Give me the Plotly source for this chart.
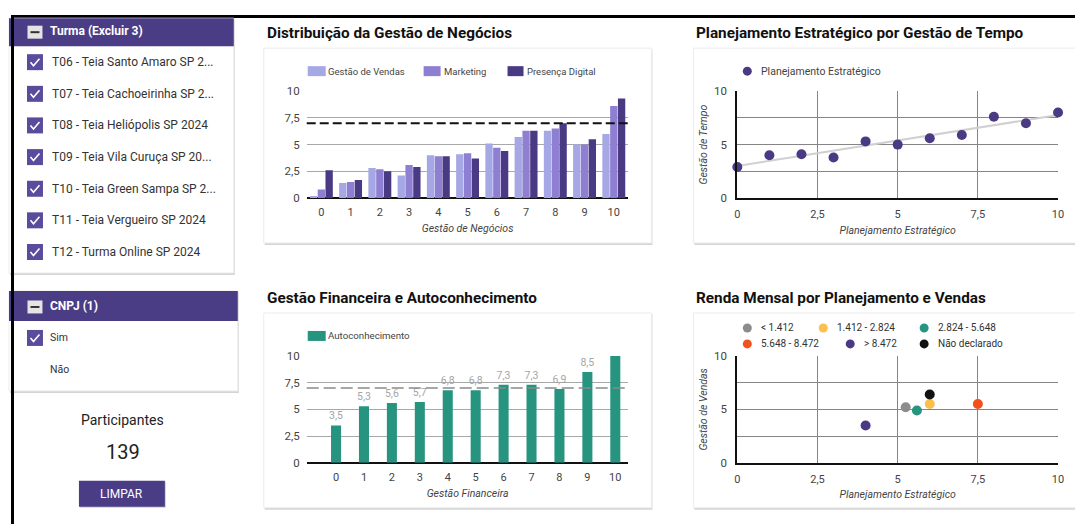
import plotly.graph_objects as go
import numpy as np

W, H = 1083, 524
# where the figure lands in the photographed window (measured)
OX, OY, WR, HR = 10.0, 13.8, 1075.0, 510.4

# ---------------- data ----------------
notas = list(range(11))
gestao_vendas = [0.2, 1.4, 2.8, 2.1, 4.0, 4.1, 5.1, 5.7, 6.3, 5.0, 6.0]
marketing = [0.8, 1.5, 2.7, 3.1, 3.9, 4.2, 4.7, 6.3, 6.5, 5.0, 8.6]
presenca_digital = [2.6, 1.7, 2.5, 2.9, 3.9, 3.7, 4.4, 6.3, 7.0, 5.5, 9.3]
meta_negocios = 7

planejamento = list(range(11))
gestao_tempo = [2.9, 4.0, 4.1, 3.8, 5.3, 5.0, 5.6, 5.9, 7.6, 7.0, 8.0]

gestao_financeira = list(range(11))
autoconhecimento = [3.5, 5.3, 5.6, 5.7, 6.8, 6.8, 7.3, 7.3, 6.9, 8.5, 10.0]
meta_financeira = 7

renda_faixas = ["< 1.412", "1.412 - 2.824", "2.824 - 5.648",
                "5.648 - 8.472", "> 8.472", "Não declarado"]
renda_planejamento = [5.25, 6.0, 5.6, 7.5, 4.0, 6.0]
renda_vendas = [5.2, 5.5, 4.9, 5.5, 3.5, 6.4]

turmas = ["T06 - Teia Santo Amaro SP 2...", "T07 - Teia Cachoeirinha SP 2...",
          "T08 - Teia Heliópolis SP 2024", "T09 - Teia Vila Curuça SP 20...",
          "T10 - Teia Green Sampa SP 2...", "T11 - Teia Vergueiro SP 2024",
          "T12 - Turma Online SP 2024"]
cnpj_opcoes = ["Sim", "Não"]
cnpj_marcado = [True, False]
participantes = 139

# ---------------- styles ----------------
FONT = "Roboto"
PURPLE = "#4b3c86"
CHK = "#5a4b9c"
C_GV = "#a5a8e4"
C_MK = "#8e7fd2"
C_PD = "#4a3a84"
TEAL = "#279480"
renda_cores = ["#8c8c8c", "#fbc04a", "#279480", "#f1511d", "#4a3a84", "#111111"]
TICK = "#444444"


def X(px):
    return (px - OX) / WR


def Y(py):
    return 1 - (py - OY) / HR


shapes = []
annotations = []


def rect(x0, y0, x1, y1, fill, line=None, lw=0, layer="below"):
    shapes.append(dict(type="rect", xref="paper", yref="paper",
                       x0=X(x0), x1=X(x1), y0=Y(y1), y1=Y(y0),
                       fillcolor=fill, line=dict(color=line or fill, width=lw),
                       layer=layer))


def circle(cx, cy, r, fill):
    shapes.append(dict(type="circle", xref="paper", yref="paper",
                       x0=X(cx - r), x1=X(cx + r), y0=Y(cy + r), y1=Y(cy - r),
                       fillcolor=fill, line=dict(color=fill, width=0), layer="above"))


def text(x, y, s, size=12, color="#333", anchor="left", bold=False, italic=False):
    if anchor == "left":
        x -= 3  # compensate annotation inner padding
    annotations.append(dict(xref="paper", yref="paper", x=X(x), y=Y(y), text=s,
                            showarrow=False, xanchor=anchor, yanchor="middle",
                            font=dict(family=FONT, size=size, color=color,
                                      weight="bold" if bold else "normal",
                                      style="italic" if italic else "normal")))


def card(x0, y0, x1, y1):
    rect(x0 + 1, y0 + 1, x1 + 1, y1 + 2, "#d4d4d4")
    rect(x0, y0, x1, y1, "white", "#ececec", 1)


def checkbox(cx, cy):
    rect(cx - 8, cy - 8, cx + 8, cy + 8, CHK, layer="above")
    path = "M {},{} L {},{} L {},{}".format(X(cx - 4.5), Y(cy), X(cx - 1.5), Y(cy + 3.5),
                                            X(cx + 4.5), Y(cy - 3.5))
    shapes.append(dict(type="path", xref="paper", yref="paper", path=path,
                       line=dict(color="white", width=1.6), layer="above"))


def minusbox(cx, cy):
    rect(cx - 7.5, cy - 6.5, cx + 7.5, cy + 6.5, "#e4e4e4", layer="above")
    shapes.append(dict(type="line", xref="paper", yref="paper",
                       x0=X(cx - 4.5), x1=X(cx + 4.5), y0=Y(cy), y1=Y(cy),
                       line=dict(color="#333", width=2), layer="above"))


# ---------------- frame ----------------
rect(OX, OY, 1090, OY + 3, "black")
rect(OX, OY, OX + 3, 530, "black", layer="above")

# ---------------- left panel ----------------
card(8, 17, 233, 272)
rect(8, 17, 233, 45, PURPLE)
minusbox(34, 31)
text(50, 30, "Turma (Excluir 3)", size=12, color="white", bold=True)
item_y = [61, 92.7, 124.3, 156, 187.7, 219.3, 251]
for t, yy in zip(turmas, item_y):
    checkbox(34, yy)
    text(52, yy, t, size=12, color="#333")

card(8, 290, 237, 390)
rect(8, 290, 237, 320, PURPLE)
minusbox(34, 306)
text(50, 305, "CNPJ (1)", size=12, color="white", bold=True)
for opt, chk, yy in zip(cnpj_opcoes, cnpj_marcado, [337, 369]):
    if chk:
        checkbox(34, yy)
    text(50, yy, opt, size=10.5, color="#333")

text(122, 419, "Participantes", size=14, color="#222", anchor="center")
text(122, 451, str(participantes), size=20, color="#222", anchor="center")
rect(79, 481, 165, 507, "#d0d0d0")
rect(78, 480, 164, 506, PURPLE)
text(121, 493, "LIMPAR", size=12, color="white", anchor="center")

# ---------------- chart cards & titles ----------------
card(263, 47, 651, 242)
card(693, 47, 1080, 242)
card(263, 312, 651, 507)
card(693, 312, 1080, 507)
text(267, 32, "Distribuição da Gestão de Negócios", size=15.3, color="#111", bold=True)
text(697, 32, "Planejamento Estratégico por Gestão de Tempo", size=15.3, color="#111", bold=True)
text(267, 297, "Gestão Financeira e Autoconhecimento", size=15.3, color="#111", bold=True)
text(697, 297, "Renda Mensal por Planejamento e Vendas", size=15.3, color="#111", bold=True)

# legends (manual)
for (x0, x1, tx, c, s) in [(307, 325, 328, C_GV, "Gestão de Vendas"),
                           (423, 440, 444, C_MK, "Marketing"),
                           (507, 523, 527, C_PD, "Presença Digital")]:
    rect(x0, 65, x1, 75, c, layer="above")
    text(tx, 70, s, size=9.5, color="#444")
rect(307, 330, 325, 340, TEAL, layer="above")
text(328, 335, "Autoconhecimento", size=9.7, color="#444")
circle(747, 70, 4.5, C_PD)
text(762, 70, "Planejamento Estratégico", size=10.5, color="#444")
leg_pos = [(747, 327), (823, 327), (924, 327), (747, 343), (850, 343), (924, 343)]
for (lx, ly), lab, col in zip(leg_pos, renda_faixas, renda_cores):
    circle(lx, ly, 4.5, col)
    text(lx + 15, ly, lab, size=10, color="#333")

# ---------------- traces ----------------
fig = go.Figure()

for name, vals, col in [("Gestão de Vendas", gestao_vendas, C_GV),
                        ("Marketing", marketing, C_MK),
                        ("Presença Digital", presenca_digital, C_PD)]:
    fig.add_trace(go.Bar(x=notas, y=vals, name=name, marker=dict(color=col, line=dict(width=0)),
                         xaxis="x", yaxis="y", showlegend=False))

coef = np.polyfit(planejamento, gestao_tempo, 1)
tx_ = np.array([min(planejamento), max(planejamento)])
fig.add_trace(go.Scatter(x=tx_, y=np.polyval(coef, tx_), mode="lines",
                         line=dict(color="#d0d0d0", width=2), xaxis="x2", yaxis="y2",
                         showlegend=False, hoverinfo="skip"))
fig.add_trace(go.Scatter(x=planejamento, y=gestao_tempo, mode="markers", name="Planejamento Estratégico",
                         marker=dict(color=C_PD, size=10), xaxis="x2", yaxis="y2",
                         showlegend=False, cliponaxis=False))

labels_fin = [("%.1f" % v).replace(".", ",") if v < 10 else "" for v in autoconhecimento]
fig.add_trace(go.Bar(x=gestao_financeira, y=autoconhecimento, name="Autoconhecimento",
                     marker=dict(color=TEAL, line=dict(width=0)), width=0.36,
                     text=labels_fin, textposition="outside", constraintext="none",
                     textfont=dict(family=FONT, size=10.5, color="#a5a5a5"),
                     xaxis="x3", yaxis="y3", showlegend=False, cliponaxis=False))

for lab, px_, vy, col in zip(renda_faixas, renda_planejamento, renda_vendas, renda_cores):
    fig.add_trace(go.Scatter(x=[px_], y=[vy], mode="markers", name=lab,
                             marker=dict(color=col, size=10), xaxis="x4", yaxis="y4",
                             showlegend=False, cliponaxis=False))

# reference lines
shapes.append(dict(type="line", xref="x domain", yref="y", x0=0, x1=1,
                   y0=meta_negocios, y1=meta_negocios,
                   line=dict(color="#111", width=2, dash="9px,4px"), layer="above"))
shapes.append(dict(type="line", xref="x3 domain", yref="y3", x0=0, x1=1,
                   y0=meta_financeira, y1=meta_financeira,
                   line=dict(color="#8a8a8a", width=1.3, dash="12px,5px"), layer="above"))

tickfont = dict(family=FONT, size=11, color=TICK)
ytickfont = dict(family=FONT, size=11.5, color=TICK)
titlefont = dict(family=FONT, size=10.5, color=TICK, style="italic")


def bar_axes(xdom, ydom, title, xrange):
    xa = dict(domain=xdom, range=xrange, tickvals=notas, showgrid=False, zeroline=False,
              showline=False, tickfont=tickfont, ticks="", ticklabelstandoff=6,
              title=dict(text=title, font=titlefont, standoff=6), fixedrange=True)
    ya = dict(domain=ydom, range=[0, 10], tickvals=[0, 2.5, 5, 7.5, 10], showgrid=True,
              gridcolor="#a8a8a8", gridwidth=1.3, zeroline=True, zerolinecolor="#111",
              zerolinewidth=2, showline=False, tickfont=ytickfont, ticks="",
              ticklabelstandoff=6, fixedrange=True)
    return xa, ya


def grid_axes(xdom, ydom, xtitle, ytitle):
    xa = dict(domain=xdom, range=[0, 10], tickvals=[0, 2.5, 5, 7.5, 10], showgrid=True,
              gridcolor="#858585", gridwidth=1.2, zeroline=False, showline=True,
              linecolor="#111", linewidth=2, tickfont=tickfont, ticks="", ticklabelstandoff=5,
              title=dict(text=xtitle, font=titlefont, standoff=6), fixedrange=True)
    ya = dict(domain=ydom, range=[0, 10], tickvals=[0, 5, 10], showgrid=False,
              zeroline=False, showline=True, linecolor="#111", linewidth=2,
              tickfont=ytickfont, ticks="", ticklabelstandoff=6,
              title=dict(text=ytitle, font=titlefont, standoff=4), fixedrange=True,
              minor=dict(tickvals=[2.5, 5, 7.5, 10], showgrid=True,
                         gridcolor="#858585", gridwidth=1.2))
    return xa, ya


def xd(a, b):
    return [X(a), X(b)]


def yd(top, bottom):
    return [Y(bottom), Y(top)]


xa1, ya1 = bar_axes(xd(306, 628), yd(90, 197), "Gestão de Negócios", [-0.5, 10.5])
xa3, ya3 = bar_axes(xd(306, 628), yd(355, 462), "Gestão Financeira", [-1.05, 10.47])
xa2, ya2 = grid_axes(xd(737, 1058), yd(90, 197), "Planejamento Estratégico", "Gestão de Tempo")
xa4, ya4 = grid_axes(xd(737, 1058), yd(355, 462), "Planejamento Estratégico", "Gestão de Vendas")
xa2["anchor"] = "y2"; ya2["anchor"] = "x2"
xa3["anchor"] = "y3"; ya3["anchor"] = "x3"
xa4["anchor"] = "y4"; ya4["anchor"] = "x4"

fig.update_layout(
    width=W, height=H, margin=dict(l=0, r=0, t=0, b=0),
    paper_bgcolor="white", plot_bgcolor="rgba(0,0,0,0)",
    separators=",.", barmode="group", bargap=0.2, bargroupgap=0.06,
    font=dict(family=FONT, color=TICK),
    xaxis=xa1, yaxis=ya1, xaxis2=xa2, yaxis2=ya2,
    xaxis3=xa3, yaxis3=ya3, xaxis4=xa4, yaxis4=ya4,
    shapes=shapes, annotations=annotations, showlegend=False,
)

fig.write_html("out.html")
